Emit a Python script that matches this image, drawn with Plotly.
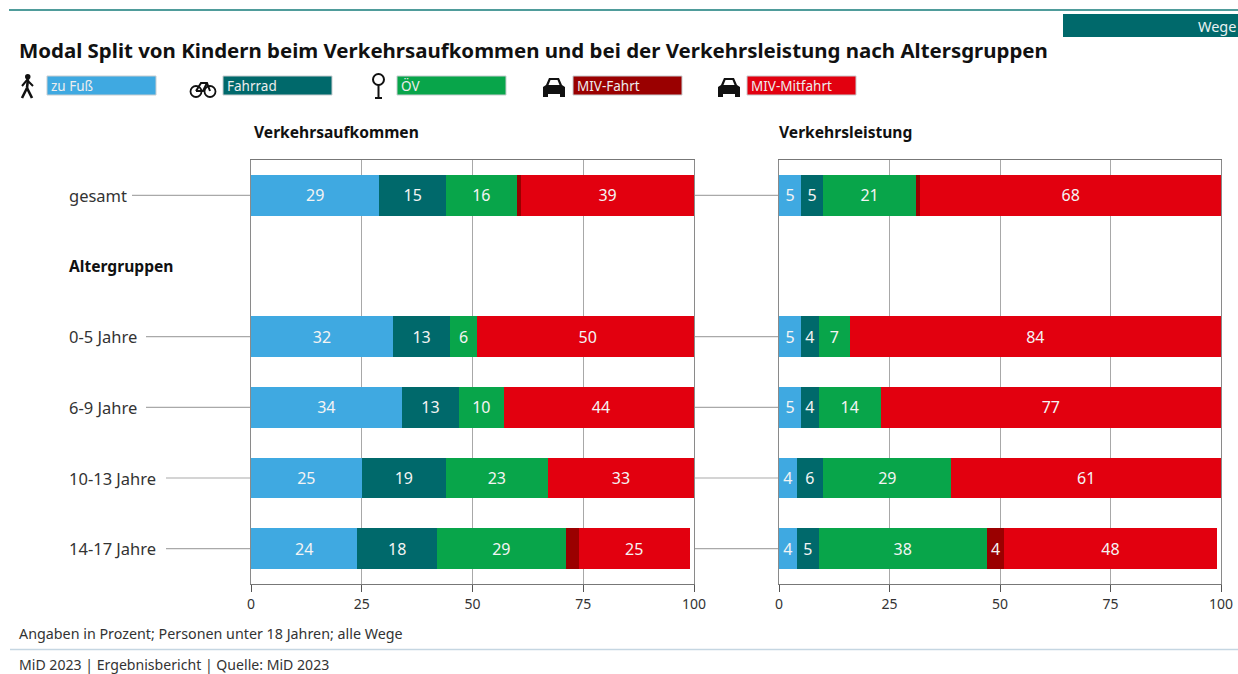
import plotly.graph_objects as go

W, H = 1238, 674
FONT = "Noto Sans"

categories = ["gesamt", "Altergruppen", "0-5 Jahre", "6-9 Jahre", "10-13 Jahre", "14-17 Jahre"]
modes = ["zu Fuß", "Fahrrad", "ÖV", "MIV-Fahrt", "MIV-Mitfahrt"]
colors = ["#3FA9E1", "#00696B", "#08A54A", "#9A0000", "#E2000F"]

aufkommen_fuss = [29, None, 32, 34, 25, 24]
aufkommen_rad = [15, None, 13, 13, 19, 18]
aufkommen_oev = [16, None, 6, 10, 23, 29]
aufkommen_fahrt = [1, None, 0, 0, 0, 3]
aufkommen_mit = [39, None, 50, 44, 33, 25]

leistung_fuss = [5, None, 5, 5, 4, 4]
leistung_rad = [5, None, 4, 4, 6, 5]
leistung_oev = [21, None, 7, 14, 29, 38]
leistung_fahrt = [1, None, 0, 0, 0, 4]
leistung_mit = [68, None, 84, 77, 61, 48]

x_ticks = [0, 25, 50, 75, 100]


def px(x):
    return x / W


def py(y):
    return 1 - y / H


def path(*pts):
    out = []
    for i, p in enumerate(pts):
        if isinstance(p, str):
            out.append(p)
        else:
            out.append(("M" if i == 0 or isinstance(pts[i - 1], str) else "L") + f"{px(p[0]):.5f},{py(p[1]):.5f}")
    return " ".join(out)


fig = go.Figure()
panels = [
    ("x", "y", [aufkommen_fuss, aufkommen_rad, aufkommen_oev, aufkommen_fahrt, aufkommen_mit]),
    ("x2", "y2", [leistung_fuss, leistung_rad, leistung_oev, leistung_fahrt, leistung_mit]),
]
for xa, ya, rows in panels:
    for mode, color, vals in zip(modes, colors, rows):
        fig.add_trace(go.Bar(
            y=categories, x=vals, orientation="h", name=mode, xaxis=xa, yaxis=ya,
            marker=dict(color=color, line=dict(width=0)),
            text=[str(v) if v is not None and v >= 4 else "" for v in vals],
            textposition="inside", insidetextanchor="middle", textangle=0,
            textfont=dict(family=FONT, size=16, color="#F4F4F4"),
            constraintext="none", showlegend=False, cliponaxis=True,
        ))

shapes, annotations = [], []


def text(x, y, s, size=14, color="#222", bold=False, anchor="left", xref="paper", yref="paper"):
    annotations.append(dict(
        x=x, y=y, xref=xref, yref=yref, text=f"<b>{s}</b>" if bold else s, showarrow=False,
        xanchor=anchor, yanchor="middle", align=anchor, xshift=-2 if anchor == "left" else 0,
        font=dict(family=FONT, size=size, color=color),
    ))


# Top rule and tag
shapes.append(dict(type="rect", xref="paper", yref="paper", x0=px(9), x1=1, y0=py(11), y1=py(9),
                   fillcolor="#4F9C9B", line_width=0))
shapes.append(dict(type="rect", xref="paper", yref="paper", x0=px(1063), x1=1, y0=py(37), y1=py(14),
                   fillcolor="#00696B", line_width=0))
text(px(1238), py(26), "Wege", size=14.5, color="#E8F2F2", anchor="right")
text(px(19), py(50), "Modal Split von Kindern beim Verkehrsaufkommen und bei der Verkehrsleistung nach Altersgruppen",
     size=20.45, color="#111", bold=True)

# Legend
swatches = [47, 223, 397, 573, 747]
for x0, mode, color in zip(swatches, modes, colors):
    shapes.append(dict(type="rect", xref="paper", yref="paper", x0=px(x0), x1=px(x0 + 109),
                       y0=py(95), y1=py(76), fillcolor=color, line=dict(color="#C8CDD0", width=1)))
    text(px(x0 + 4), py(85.5), mode, size=13.5, color="#EDEDED")

ICON = dict(type="path", xref="paper", yref="paper", line=dict(color="#111", width=0), fillcolor="#111")
LINE = dict(type="path", xref="paper", yref="paper", line=dict(color="#111", width=2.6))
THIN = dict(type="path", xref="paper", yref="paper", line=dict(color="#111", width=2))
# pedestrian
shapes.append(dict(type="circle", xref="paper", yref="paper", x0=px(25), x1=px(30.5), y0=py(79.5), y1=py(74),
                   fillcolor="#111", line_width=0))
shapes.append({**LINE, "path": path((28, 79), (27, 88), (22, 98))})
shapes.append({**LINE, "path": path((27, 88), (32, 98))})
shapes.append({**THIN, "path": path((22, 86), (27, 80), (33, 86))})
# bicycle
for cx in (196, 210):
    shapes.append(dict(type="circle", xref="paper", yref="paper", x0=px(cx - 5.5), x1=px(cx + 5.5),
                       y0=py(97), y1=py(86), line=dict(color="#111", width=1.8)))
shapes.append({**THIN, "path": path((196, 91), (201, 83), (207, 83), (210, 91))})
shapes.append({**THIN, "path": path((196, 91), (203, 91), (207, 83))})
# stop sign
shapes.append(dict(type="circle", xref="paper", yref="paper", x0=px(373), x1=px(384), y0=py(85), y1=py(74),
                   line=dict(color="#111", width=2)))
shapes.append({**THIN, "path": path((378.5, 85), (378.5, 98), (375, 98), (382, 98))})
# cars
for x0 in (542, 717):
    shapes.append({**ICON, "path": path(
        (x0 + 4, 85), (x0 + 7, 78), (x0 + 17, 78), (x0 + 20, 85), (x0 + 23, 87), (x0 + 23, 97),
        (x0 + 18, 97), (x0 + 18, 94), (x0 + 6, 94), (x0 + 6, 97), (x0 + 1, 97), (x0 + 1, 87), "Z")})
    shapes.append(dict(type="path", xref="paper", yref="paper", line_width=0, fillcolor="#FFFFFF",
                       path=path((x0 + 6.5, 85), (x0 + 8.5, 80), (x0 + 15.5, 80), (x0 + 17.5, 85), "Z")))

# Panel titles
text(px(254), py(132), "Verkehrsaufkommen", size=15.6, color="#111", bold=True)
text(px(779), py(132), "Verkehrsleistung", size=15.6, color="#111", bold=True)

# Row labels and connectors
line_starts = [132, None, 146, 146, 166, 166]
for cat, start in zip(categories, line_starts):
    is_head = start is None
    text(px(69), cat, cat, size=16.5 if not is_head else 15.6, color="#111" if is_head else "#333", bold=is_head, yref="y")
    if not is_head:
        for a, b in ((start, 251), (694, 779)):
            shapes.append(dict(type="line", xref="paper", yref="y", x0=px(a), x1=px(b), y0=cat, y1=cat,
                               line=dict(color="#A9A9A9", width=1.2), layer="below"))

# Footer
text(px(19), py(633), "Angaben in Prozent; Personen unter 18 Jahren; alle Wege", size=14.3, color="#333")
shapes.append(dict(type="line", xref="paper", yref="paper", x0=px(10), x1=1, y0=py(649.5), y1=py(649.5),
                   line=dict(color="#C5D6E2", width=1.5)))
text(px(19), py(664), "MiD 2023 | Ergebnisbericht | Quelle: MiD 2023", size=14.1, color="#333")

xcommon = dict(
    range=[0, 100], tickvals=x_ticks, ticks="outside", ticklen=7, tickcolor="#555", tickwidth=1,
    showgrid=True, gridcolor="#A8A8A8", gridwidth=1, zeroline=False, automargin=False,
    showline=True, linecolor="#777", linewidth=1, mirror=True,
    tickfont=dict(family=FONT, size=14, color="#333"),
)
ycommon = dict(
    categoryorder="array", categoryarray=categories, range=[5.5, -0.5], automargin=False,
    showticklabels=False, ticks="", showgrid=False, zeroline=False,
    showline=True, linecolor="#8A8A8A", linewidth=1, mirror=True,
    domain=[py(584), py(160)],
)
fig.update_layout(
    width=W, height=H, margin=dict(l=0, r=0, t=0, b=0), autosize=False,
    paper_bgcolor="white", plot_bgcolor="white", barmode="stack", bargap=0.42,
    xaxis=dict(domain=[px(251), px(694)], anchor="y", **xcommon),
    xaxis2=dict(domain=[px(779), px(1221)], anchor="y2", **xcommon),
    yaxis=dict(anchor="x", **ycommon),
    yaxis2=dict(anchor="x2", **ycommon),
    shapes=shapes, annotations=annotations,
)
fig.write_html("out.html", config={"displayModeBar": False},
               post_script="document.body.style.margin='0';document.body.style.overflow='hidden';")
